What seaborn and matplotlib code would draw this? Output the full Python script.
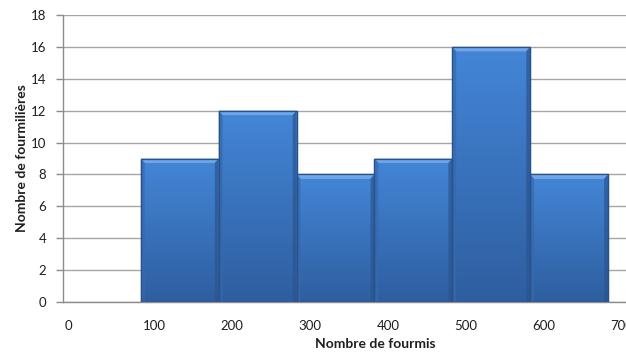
import numpy as np
import pandas as pd
import matplotlib
matplotlib.use("Agg")
import matplotlib.pyplot as plt
import matplotlib.patches as mpatches
import matplotlib.transforms as mtrans
import seaborn as sns

# Histogram data: number of ant nests by ant-count class
bin_edges = [100, 200, 300, 400, 500, 600, 700]
nest_counts = [9, 12, 8, 9, 16, 8]
tick_values = [0, 100, 200, 300, 400, 500, 600, 700]
y_ticks = [0, 2, 4, 6, 8, 10, 12, 14, 16, 18]

x_label = "Nombre de fourmis"
y_label = "Nombre de fourmilières"

centers = [(a + b) / 2 for a, b in zip(bin_edges[:-1], bin_edges[1:])]
df = pd.DataFrame({"fourmis": centers, "fourmilieres": nest_counts})

sns.set_theme(style="white")
plt.rcParams["font.family"] = ["Lato", "DejaVu Sans"]

W, H = 626, 354
fig = plt.figure(figsize=(W / 100, H / 100), dpi=100)
left, right, bottom, top = 63, 626, 302, 15
ax = fig.add_axes([left / W, 1 - bottom / H, (right - left) / W, (bottom - top) / H])

sns.histplot(data=df, x="fourmis", weights="fourmilieres", bins=bin_edges,
             ax=ax, color="#3B78C6", edgecolor="#2A5188", linewidth=0.9,
             alpha=1, zorder=3)

px_per_unit_x = (608 - 63) / 700
ax.set_xlim(0, (right - left) / px_per_unit_x)
ax.set_ylim(0, 18)

# shaded face with bevel on each bar
grad = np.linspace(0, 1, 256).reshape(-1, 1)
top_c = np.array([0x44, 0x86, 0xD8]) / 255
bot_c = np.array([0x2E, 0x5E, 0x9F]) / 255
img = (top_c + (bot_c - top_c) * grad).reshape(256, 1, 3)
bevel_h = 0.28
bevel_w = 5
for p in list(ax.patches):
    x0 = p.get_x()
    w, h = p.get_width(), p.get_height()
    im = ax.imshow(img, extent=[x0, x0 + w, 0, h], aspect="auto",
                   zorder=3.5, interpolation="bilinear")
    im.set_clip_path(p)
    # top bevel
    ax.add_patch(mpatches.Polygon(
        [[x0, h], [x0 + w, h], [x0 + w - bevel_w, h - bevel_h], [x0 + bevel_w, h - bevel_h]],
        closed=True, facecolor="#6EA6E8", edgecolor="none", zorder=3.6))
    # side bevels
    ax.add_patch(mpatches.Polygon(
        [[x0, 0], [x0, h], [x0 + bevel_w, h - bevel_h], [x0 + bevel_w, 0]],
        closed=True, facecolor="#3669AE", edgecolor="none", alpha=0.7, zorder=3.6))
    ax.add_patch(mpatches.Polygon(
        [[x0 + w, 0], [x0 + w, h], [x0 + w - bevel_w, h - bevel_h], [x0 + w - bevel_w, 0]],
        closed=True, facecolor="#2A5591", edgecolor="none", alpha=0.7, zorder=3.6))
    ax.add_patch(mpatches.Rectangle((x0, 0), w, h, facecolor="none",
                                    edgecolor="#2A5188", linewidth=0.9, zorder=3.7))

ax.set_yticks(y_ticks)
ax.set_xticks(tick_values)
ax.set_xticklabels([str(v) for v in tick_values])

ax.grid(axis="y", color="#A6A6A6", linewidth=1.0, zorder=0)
ax.grid(axis="x", visible=False)
ax.set_axisbelow(True)

for s in ["top", "right"]:
    ax.spines[s].set_visible(False)
for s in ["left", "bottom"]:
    ax.spines[s].set_color("#8C8C8C")
    ax.spines[s].set_linewidth(1.0)

ax.tick_params(axis="y", direction="out", length=5, width=1.0, color="#8C8C8C",
               pad=7, labelsize=9.5, labelcolor="#1F1F1F", left=True)
ax.tick_params(axis="x", length=0, pad=13, labelsize=9.5, labelcolor="#1F1F1F")

# x tick labels start just right of their class boundary
offset = mtrans.ScaledTranslation(2 / 100, 0, fig.dpi_scale_trans)
for lbl in ax.get_xticklabels():
    lbl.set_horizontalalignment("left")
    lbl.set_transform(lbl.get_transform() + offset)

ax.set_xlabel(x_label, fontsize=10, fontweight="bold", color="#1F1F1F")
ax.set_ylabel(y_label, fontsize=10, fontweight="bold", color="#1F1F1F")
ax.xaxis.set_label_coords((375 - left) / (right - left), -(338 - bottom) / (bottom - top))
ax.yaxis.set_label_coords(-(left - 28) / (right - left), 0.5)

fig.savefig("out.png", dpi=100)
